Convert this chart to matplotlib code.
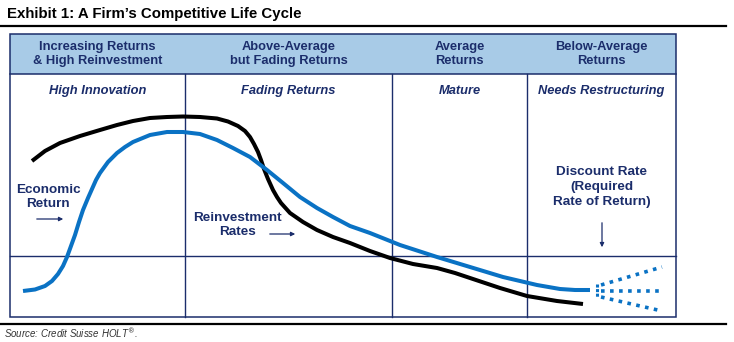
import matplotlib
matplotlib.use("Agg")
import matplotlib.pyplot as plt
from matplotlib.patches import Rectangle

plt.rcParams['font.family'] = ['Liberation Sans', 'DejaVu Sans']

# stages of the life cycle
stage_titles = ["Increasing Returns\n& High Reinvestment", "Above-Average\nbut Fading Returns",
                "Average\nReturns", "Below-Average\nReturns"]
stage_labels = ["High Innovation", "Fading Returns", "Mature", "Needs Restructuring"]

# curves (x along the cycle, y in picture units, down is lower)
econ_x = [23, 35, 45, 52, 58, 63, 67, 71, 75, 79, 83, 88, 92, 96, 100, 108, 117, 125, 133, 150, 167,
          183, 200, 217, 233, 250, 267, 283, 300, 317, 333, 350, 370, 400, 437, 470, 503, 537, 560,
          575, 590]
econ_y = [291, 289.5, 286, 281, 274, 266, 257, 246, 235, 222, 210, 198, 189, 180, 173, 162, 153, 147,
          142, 135, 132, 132, 134, 140, 148, 157, 170, 183, 197, 208, 217, 226, 233, 245, 257, 267,
          277, 285, 289, 290, 290]
reinv_x = [32, 45, 60, 80, 100, 117, 133, 150, 167, 183, 200, 217, 228, 238, 245, 250, 254, 258, 261,
           264, 268, 273, 277, 281, 290, 303, 317, 333, 350, 370, 390, 413, 437, 455, 470, 500, 527,
           557, 583]
reinv_y = [161, 151, 143, 136, 130, 125, 121, 118, 117, 116.5, 117, 118.5, 121.5, 126, 131, 137, 144,
           152, 160, 169, 179, 190, 197, 203, 213, 222, 230, 237, 243, 251, 258, 264, 268, 273, 278,
           288, 296, 301, 304]

# fanning dotted paths after the curve ends
fan_x = [601, 662]
fan_up = [285, 267]
fan_mid = [291, 291]
fan_low = [297, 311]

navy = '#1b2d6b'
blue = '#0a72c4'
fill = '#a8cbe7'

fig = plt.figure(figsize=(7.34, 3.42), dpi=100)
ax = fig.add_axes([0, 0, 1, 1])
ax.set_xlim(0, 734)
ax.set_ylim(342, 0)
ax.axis('off')

# title and rules
ax.text(7, 14, "Exhibit 1: A Firm\u2019s Competitive Life Cycle", fontsize=10.8, fontweight='bold',
        va='center', ha='left', color='black')
ax.plot([0, 726], [25.5, 25.5], color='black', lw=1.6)
ax.plot([0, 726], [324, 324], color='black', lw=1.6)
ax.text(4, 333, r"Source: Credit Suisse HOLT$^{\circledR}$.", fontsize=7, style='italic',
        color='#333333', va='center', ha='left')

# box
left, right, top, bot, hdr = 10, 676, 34, 317, 74
ax.add_patch(Rectangle((left, top), right - left, hdr - top, facecolor=fill, edgecolor='none'))
ax.add_patch(Rectangle((left, top), right - left, bot - top, facecolor='none', edgecolor=navy, lw=1.1))
ax.plot([left, right], [hdr, hdr], color=navy, lw=1.1)
ax.plot([left, right], [256, 256], color=navy, lw=1.0)
cols = [left, 185, 392, 527, right]
for cx in cols[1:-1]:
    ax.plot([cx, cx], [hdr, bot], color=navy, lw=1.0)

for i in range(4):
    cx = (cols[i] + cols[i + 1]) / 2
    ax.text(cx, 54, stage_titles[i], fontsize=9.3, fontweight='bold', color=navy,
            ha='center', va='center', linespacing=1.25)
    ax.text(cx, 91, stage_labels[i], fontsize=9.3, fontweight='bold', style='italic', color=navy,
            ha='center', va='center')

# curves
ax.plot(reinv_x, reinv_y, color='black', lw=2.9, solid_capstyle='butt', solid_joinstyle='round')
ax.plot(econ_x, econ_y, color=blue, lw=2.9, solid_capstyle='butt', solid_joinstyle='round')
ax.plot([597, 597], [284, 297], color=blue, lw=2.2, ls=(0, (1, 0.5)))
for fy in (fan_up, fan_mid, fan_low):
    ax.plot(fan_x, fy, color=blue, lw=2.6, ls=(0, (1, 1.5)))

# annotations
ax.text(48, 197, "Economic\nReturn", fontsize=9.7, fontweight='bold', color=navy,
        ha='center', va='center', linespacing=1.33)
ax.annotate("", xy=(66, 219), xytext=(34, 219),
            arrowprops=dict(arrowstyle='-|>', color=navy, lw=0.9, mutation_scale=6))
ax.text(237, 225, "Reinvestment\nRates", fontsize=9.7, fontweight='bold', color=navy,
        ha='center', va='center', linespacing=1.2)
ax.annotate("", xy=(298, 234), xytext=(267, 234),
            arrowprops=dict(arrowstyle='-|>', color=navy, lw=0.9, mutation_scale=6))
ax.text(602, 187, "Discount Rate\n(Required\nRate of Return)", fontsize=9.7, fontweight='bold',
        color=navy, ha='center', va='center', linespacing=1.3)
ax.annotate("", xy=(602, 250), xytext=(602, 220),
            arrowprops=dict(arrowstyle='-|>', color=navy, lw=0.9, mutation_scale=6))

fig.savefig("out.png", dpi=100)
